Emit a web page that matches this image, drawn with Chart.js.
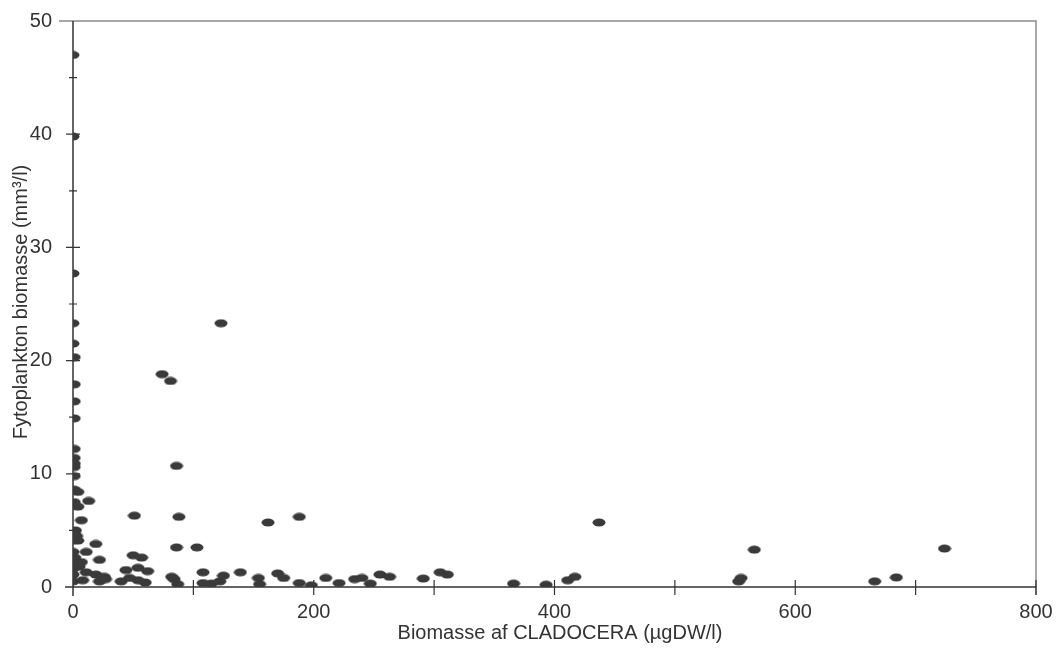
<!DOCTYPE html>
<html>
<head>
<meta charset="utf-8">
<script src="https://cdn.jsdelivr.net/npm/chart.js@4.4.1/dist/chart.umd.min.js"></script>
<style>
  html, body { margin: 0; padding: 0; background: #fff; }
  #wrap { width: 1059px; height: 648px; }
</style>
</head>
<body>
<div id="wrap"><canvas id="chart" width="1059" height="648"></canvas></div>
<script>
// Cladocera biomass (µgDW/l) vs phytoplankton biomass (mm³/l)
const cladoceraX = [
    0, 0, 0, 0, 0, 1, 1, 1, 1, 1, 1, 1, 1, 1, 1, 4, 1, 4, 13, 7,
    2, 1, 3, 0, 4, 19, 0, 11, 1.5, 22, 1.5, 7, 0, 11, 19, 26, 0, 8, 22, 27,
    0, 5, 51, 50, 57, 44, 54, 62, 40, 47, 54, 60, 82, 74, 81, 86, 88, 86, 103, 123,
    84, 87, 108, 108, 115, 122, 125, 139, 154, 155, 162, 170, 175, 188, 188, 198, 210, 221, 234, 240,
    247, 255, 263, 291, 305, 311, 366, 393, 411, 417, 437, 553, 555, 566, 666, 684, 724
];
const phytoY = [
    47.0, 39.8, 27.7, 23.3, 21.5, 20.3, 17.9, 16.4, 14.9, 12.2, 11.4, 10.9, 10.6, 9.8, 8.6, 8.4, 7.5, 7.1, 7.6, 5.9,
    5.0, 4.7, 4.5, 4.1, 4.1, 3.8, 3.1, 3.1, 2.6, 2.4, 2.1, 2.2, 1.6, 1.3, 1.1, 0.9, 0.5, 0.6, 0.5, 0.7,
    1.1, 1.8, 6.3, 2.8, 2.6, 1.5, 1.7, 1.4, 0.5, 0.8, 0.6, 0.4, 0.9, 18.8, 18.2, 10.7, 6.2, 3.5, 3.5, 23.3,
    0.7, 0.25, 1.3, 0.35, 0.3, 0.5, 1.0, 1.3, 0.8, 0.25, 5.7, 1.2, 0.8, 6.2, 0.35, 0.15, 0.8, 0.35, 0.7, 0.8,
    0.3, 1.1, 0.9, 0.75, 1.3, 1.1, 0.3, 0.2, 0.6, 0.9, 5.7, 0.5, 0.8, 3.3, 0.5, 0.85, 3.4
];
const xTickValues = [0, 100, 200, 300, 400, 500, 600, 700, 800];
const yTickValues = [5, 10, 15, 20, 25, 30, 35, 40, 45];
const xTitle = 'Biomasse af CLADOCERA (µgDW/l)';
const yTitle = 'Fytoplankton biomasse (mm³/l)';

const INK = '#333333';
const FONT = '"Liberation Sans", Arial, sans-serif';

// flat oval marker like the printed dots
function makeDot() {
    const c = document.createElement('canvas');
    c.width = 14;
    c.height = 9;
    const g = c.getContext('2d');
    g.fillStyle = '#3a3a3a';
    g.beginPath();
    g.ellipse(7, 4.5, 6.5, 4, 0, 0, Math.PI * 2);
    g.fill();
    return c;
}

const frameAndTicks = {
    id: 'frameAndTicks',
    beforeDatasetsDraw(chart) {
        const { ctx, chartArea: a, scales: { x, y } } = chart;
        ctx.save();
        // faint frame on top and right
        ctx.strokeStyle = '#8c8c8c';
        ctx.lineWidth = 1.5;
        ctx.beginPath();
        ctx.moveTo(a.left - 14, a.top);
        ctx.lineTo(a.right, a.top);
        ctx.lineTo(a.right, a.bottom + 8);
        ctx.stroke();

        // axes
        ctx.strokeStyle = INK;
        ctx.lineWidth = 1.5;
        ctx.beginPath();
        ctx.moveTo(a.left, a.top);
        ctx.lineTo(a.left, a.bottom + 9);
        ctx.moveTo(a.left - 8, a.bottom);
        ctx.lineTo(a.right, a.bottom);
        ctx.stroke();

        // tick marks crossing the axes
        ctx.lineWidth = 1.2;
        ctx.beginPath();
        yTickValues.forEach(v => {
            const py = y.getPixelForValue(v);
            const len = v % 10 === 0 ? 7 : 4;
            ctx.moveTo(a.left - len, py);
            ctx.lineTo(a.left + len, py);
        });
        xTickValues.forEach(v => {
            if (v === 0) return;
            const px = x.getPixelForValue(v);
            ctx.moveTo(px, a.bottom - 7);
            ctx.lineTo(px, a.bottom + 8);
        });
        ctx.stroke();
        ctx.restore();
    },
    afterDraw(chart) {
        const { ctx } = chart;
        ctx.save();
        ctx.fillStyle = INK;
        ctx.font = '20px ' + FONT;
        ctx.textAlign = 'center';
        ctx.textBaseline = 'middle';
        ctx.fillText(xTitle, 560, 633);
        ctx.translate(21, 302);
        ctx.rotate(-Math.PI / 2);
        ctx.fillText(yTitle, 0, 0);
        ctx.restore();
    }
};

const points = cladoceraX.map((v, i) => ({ x: v, y: phytoY[i] }));

new Chart(document.getElementById('chart'), {
    type: 'scatter',
    data: {
        datasets: [{
            data: points,
            pointStyle: makeDot(),
            pointRadius: 6,
            pointHoverRadius: 6
        }]
    },
    options: {
        responsive: false,
        animation: false,
        layout: { padding: { left: 0, top: 21, right: 23, bottom: 0 } },
        plugins: {
            legend: { display: false },
            tooltip: { enabled: false }
        },
        scales: {
            x: {
                type: 'linear',
                min: 0,
                max: 800,
                afterFit: s => {
                    s.height = 61;
                    s.paddingLeft = 0;
                    s.paddingRight = 0;
                },
                grid: { display: false, drawTicks: false },
                border: { display: false },
                ticks: {
                    stepSize: 100,
                    padding: 13,
                    color: INK,
                    font: { family: FONT, size: 20 },
                    maxRotation: 0,
                    autoSkip: false,
                    callback: v => (v % 200 === 0 ? v : '')
                }
            },
            y: {
                type: 'linear',
                min: 0,
                max: 50,
                afterFit: s => {
                    s.width = 73;
                    s.paddingTop = 0;
                    s.paddingBottom = 0;
                },
                grid: { display: false, drawTicks: false },
                border: { display: false },
                ticks: {
                    stepSize: 5,
                    padding: 21,
                    color: INK,
                    font: { family: FONT, size: 20 },
                    autoSkip: false,
                    callback: v => (v % 10 === 0 ? v : '')
                }
            }
        }
    },
    plugins: [frameAndTicks]
});
</script>
</body>
</html>
